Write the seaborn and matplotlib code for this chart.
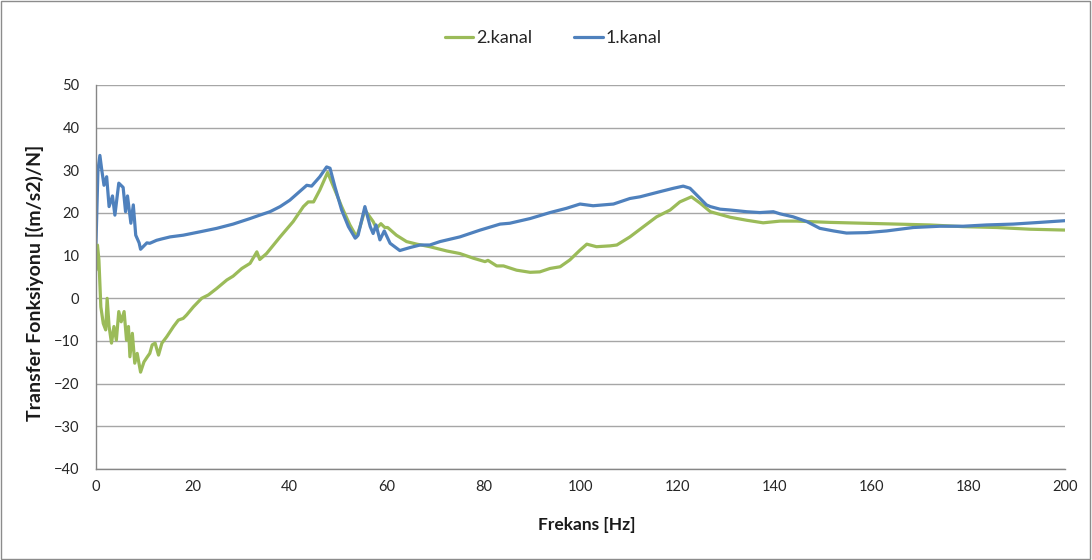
import matplotlib
matplotlib.use("Agg")
import matplotlib.pyplot as plt
import seaborn as sns
import pandas as pd
from matplotlib.patches import Rectangle

# Frequency response, channel 1 (Hz, (m/s2)/N)
freq_k1 = [0.0, 0.4, 0.8, 1.2, 1.65, 2.2, 2.7, 3.4, 3.9, 4.7, 5.6, 6.1, 6.5, 7.2, 7.7,
           8.2, 8.9, 9.2, 10.5, 11.1, 12.5, 13.5, 15.3, 18.0, 21.5, 24.9, 28.3, 31.8,
           33.8, 35.9, 38.0, 40.0, 42.0, 43.5, 44.5, 46.2, 47.6, 48.3, 49.3, 50.7,
           52.1, 53.5, 54.1, 55.5, 56.6, 57.2, 57.8, 58.6, 59.5, 60.7, 62.7, 64.8,
           66.9, 68.9, 71.0, 75.1, 79.3, 83.4, 85.4, 89.6, 93.7, 97.1, 99.9, 102.6,
           106.8, 110.2, 112.3, 116.4, 119.2, 121.2, 122.6, 124.0, 124.7, 126.0,
           126.8, 128.8, 130.9, 134.3, 137.0, 139.8, 141.2, 143.9, 146.7, 149.4,
           152.2, 154.9, 159.1, 163.2, 168.7, 174.2, 179.0, 183.8, 189.3, 194.8, 200.0]
val_k1 = [13.0, 30.0, 33.5, 30.0, 26.5, 28.5, 21.5, 24.0, 19.5, 27.0, 26.0, 20.3, 24.0,
          17.6, 21.9, 14.8, 13.0, 11.5, 13.0, 12.9, 13.6, 13.9, 14.4, 14.8, 15.6, 16.4,
          17.4, 18.7, 19.5, 20.3, 21.5, 23.0, 25.0, 26.5, 26.3, 28.5, 30.8, 30.5, 26.2,
          20.7, 16.8, 14.1, 14.8, 21.5, 16.8, 15.2, 17.2, 13.7, 15.8, 12.9, 11.2, 11.9,
          12.5, 12.5, 13.3, 14.4, 16.0, 17.4, 17.6, 18.7, 20.1, 21.1, 22.1, 21.7, 22.1,
          23.4, 23.8, 25.0, 25.8, 26.3, 25.8, 24.2, 23.4, 21.9, 21.5, 20.9, 20.7, 20.3,
          20.1, 20.3, 19.8, 19.1, 18.0, 16.4, 15.8, 15.3, 15.4, 15.8, 16.6, 16.9, 16.9,
          17.2, 17.4, 17.8, 18.2]

# Frequency response, channel 2
freq_k2 = [0.0, 0.3, 0.6, 1.0, 1.5, 2.0, 2.3, 2.7, 3.2, 3.7, 4.2, 4.7, 5.2, 5.8, 6.3,
           6.7, 7.0, 7.5, 8.0, 8.5, 9.2, 9.9, 10.6, 11.1, 11.6, 12.2, 12.9, 13.6, 14.6,
           16.0, 17.0, 18.0, 18.7, 20.1, 21.8, 23.2, 24.9, 27.0, 28.3, 30.1, 31.8, 33.2,
           33.8, 35.2, 38.0, 40.7, 42.8, 43.8, 44.9, 46.2, 47.8, 49.3, 50.7, 52.4, 53.8,
           54.5, 55.5, 57.2, 57.9, 58.8, 59.6, 60.2, 62.0, 64.1, 66.2, 68.9, 72.4, 75.1,
           77.9, 80.3, 80.9, 82.7, 84.1, 86.8, 89.6, 91.6, 93.7, 95.8, 97.8, 99.9, 101.3,
           103.3, 106.1, 107.5, 110.2, 113.0, 115.7, 118.5, 120.5, 122.9, 124.7, 126.8,
           130.9, 134.3, 137.7, 141.2, 144.6, 151.5, 158.4, 165.3, 172.1, 179.0, 185.9,
           192.8, 200.0]
val_k2 = [6.6, 12.5, 9.0, -2.0, -5.9, -7.4, 0.0, -6.6, -10.5, -6.6, -9.8, -3.1, -5.5,
          -3.1, -9.8, -6.6, -13.7, -8.2, -15.2, -12.9, -17.3, -14.9, -13.7, -12.9, -10.9,
          -10.5, -13.3, -10.5, -9.0, -6.6, -5.1, -4.7, -3.9, -2.0, 0.0, 0.8, 2.3, 4.3, 5.2,
          7.0, 8.2, 10.9, 9.1, 10.5, 14.4, 18.0, 21.5, 22.6, 22.6, 25.4, 29.5, 25.4, 21.5,
          17.2, 14.4, 16.8, 20.7, 18.0, 16.4, 17.5, 16.6, 16.6, 14.8, 13.3, 12.7, 12.1,
          11.1, 10.5, 9.4, 8.6, 8.9, 7.6, 7.6, 6.6, 6.1, 6.2, 7.0, 7.4, 9.0, 11.3, 12.7,
          12.1, 12.3, 12.5, 14.4, 16.8, 19.1, 20.7, 22.6, 23.8, 22.3, 20.3, 19.0, 18.3,
          17.7, 18.1, 18.1, 17.8, 17.6, 17.4, 17.2, 16.8, 16.6, 16.2, 16.0]

series_names = ["2.kanal", "1.kanal"]
series_colors = ["#9BBB59", "#4F81BD"]

df = pd.concat([
    pd.DataFrame({"f": freq_k2, "v": val_k2, "kanal": series_names[0]}),
    pd.DataFrame({"f": freq_k1, "v": val_k1, "kanal": series_names[1]}),
], ignore_index=True)

sns.set_style("white")
plt.rcParams["font.family"] = ["Lato", "DejaVu Sans"]

W, H = 1092, 560
fig = plt.figure(figsize=(W / 100, H / 100), dpi=100)
ax = fig.add_axes([96 / W, 1 - 469 / H, (1065 - 96) / W, (469 - 85) / H])

sns.lineplot(data=df, x="f", y="v", hue="kanal", hue_order=series_names,
             palette=series_colors, estimator=None, sort=False,
             linewidth=2.3, ax=ax)

ax.set_xlim(0, 200)
ax.set_ylim(-40, 50)
ax.set_xticks(range(0, 201, 20))
ax.set_yticks(range(-40, 51, 10))
ax.grid(axis="y", color="#a6a6a6", linewidth=1)
ax.grid(axis="x", visible=False)
ax.set_axisbelow(True)

for side in ("top", "right"):
    ax.spines[side].set_visible(False)
for side in ("left", "bottom"):
    ax.spines[side].set_color("#868686")
    ax.spines[side].set_linewidth(1)

ax.tick_params(axis="both", which="major", direction="out", length=4, width=1,
               color="#868686", labelsize=10.5, labelcolor="#262626")
ax.tick_params(axis="y", pad=8)
ax.tick_params(axis="x", pad=4)

ax.set_xlabel("")
ax.set_ylabel("")
fig.text(587 / W, 1 - 525 / H, "Frekans [Hz]", fontsize=12.5, fontweight="bold",
         ha="center", va="center", color="#1a1a1a")
fig.text(35 / W, 1 - 283 / H, "Transfer Fonksiyonu [(m/s2)/N]", fontsize=14,
         fontweight="bold", rotation=90, ha="center", va="center", color="#1a1a1a")

handles, labels = ax.get_legend_handles_labels()
ax.legend(handles, labels, loc="center", bbox_to_anchor=(553 / W, 1 - 38 / H),
          bbox_transform=fig.transFigure, ncol=2, frameon=False, fontsize=13,
          handlelength=1.6, columnspacing=2.3, handletextpad=0.15)

fig.patches.append(Rectangle((0.001, 0.002), 0.997, 0.996, transform=fig.transFigure,
                             fill=False, edgecolor="#8c8c8c", linewidth=1))

fig.savefig("out.png", dpi=100, facecolor="white")
